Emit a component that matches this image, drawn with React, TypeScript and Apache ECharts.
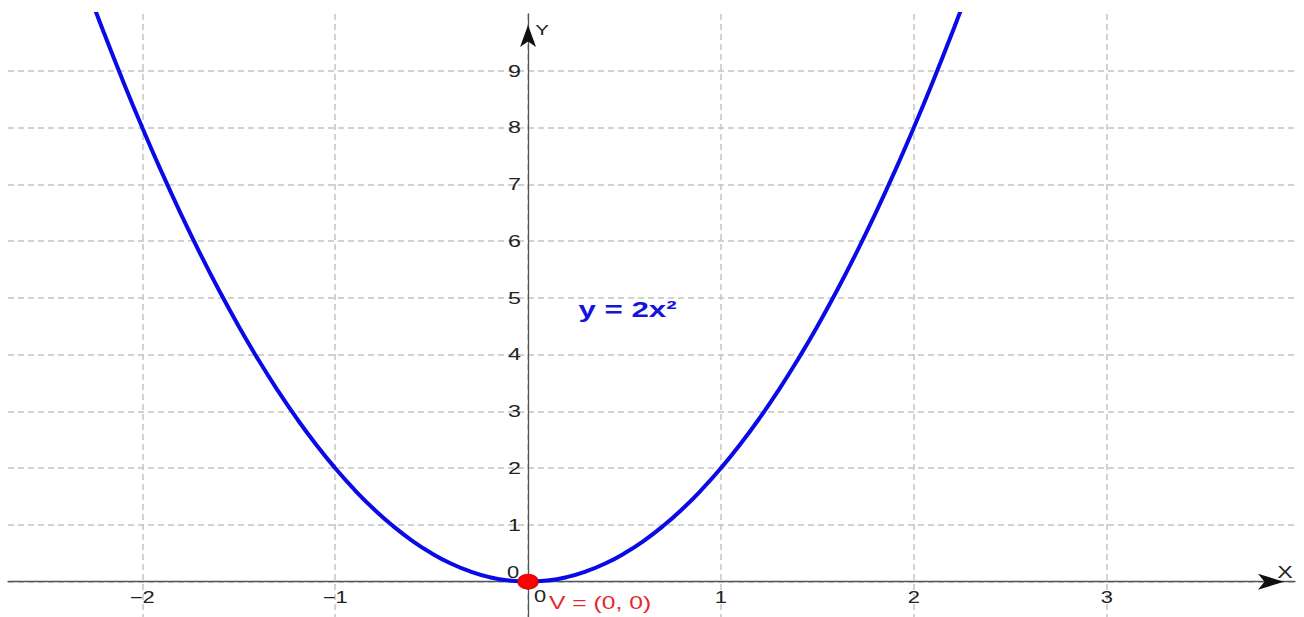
import React, { useEffect, useRef } from 'react';
import * as echarts from 'echarts';

// Parabola samples (y = 2x²)
const curveX = [
  -2.3, -2.2, -2.1, -2.0, -1.9, -1.8, -1.7, -1.6, -1.5, -1.4, -1.3, -1.2, -1.1, -1.0,
  -0.9, -0.8, -0.7, -0.6, -0.5, -0.4, -0.3, -0.2, -0.1, 0, 0.1, 0.2, 0.3, 0.4, 0.5,
  0.6, 0.7, 0.8, 0.9, 1.0, 1.1, 1.2, 1.3, 1.4, 1.5, 1.6, 1.7, 1.8, 1.9, 2.0, 2.1, 2.2, 2.3,
];
const curveY = [
  10.58, 9.68, 8.82, 8, 7.22, 6.48, 5.78, 5.12, 4.5, 3.92, 3.38, 2.88, 2.42, 2,
  1.62, 1.28, 0.98, 0.72, 0.5, 0.32, 0.18, 0.08, 0.02, 0, 0.02, 0.08, 0.18, 0.32, 0.5,
  0.72, 0.98, 1.28, 1.62, 2, 2.42, 2.88, 3.38, 3.92, 4.5, 5.12, 5.78, 6.48, 7.22, 8, 8.82, 9.68, 10.58,
];

const xTickValues = [-2, -1, 1, 2, 3];
const xTickLabels = ['−2', '−1', '1', '2', '3'];
const yTickValues = [1, 2, 3, 4, 5, 6, 7, 8, 9];
const yTickLabels = ['1', '2', '3', '4', '5', '6', '7', '8', '9'];

const xRange = [-2.696, 3.976];
const yRange = [-0.622, 10];

const vertex = [0, 0];
const vertexLabel = 'V = (0, 0)';
const originLabel = '0';
const equationLabel = 'y = 2x²';
const equationPos = [0.516, 4.8];
const xName = 'X';
const yName = 'Y';

const FONT = '"Liberation Sans", Arial, sans-serif';
const STRETCH = 1.37; // the source picture is widened horizontally

export default function App() {
  const ref = useRef<HTMLDivElement>(null);

  useEffect(() => {
    if (!ref.current) return;
    const chart = echarts.init(ref.current, null, { renderer: 'svg' });

    const gridLine = {
      show: true,
      showMinLine: false,
      showMaxLine: false,
      lineStyle: { color: '#c4c4c4', width: 1.5, type: [6, 4] as any },
    };

    const option: any = {
      animation: false,
      backgroundColor: '#ffffff',
      grid: { left: 8, right: 9, top: 14, bottom: 0, containLabel: false, outerBoundsMode: 'none' },
      xAxis: {
        type: 'value',
        min: xRange[0],
        max: xRange[1],
        minInterval: 1,
        maxInterval: 1,
        splitNumber: 7,
        axisLine: {
          show: true,
          onZero: true,
          lineStyle: { color: '#555', width: 1.3 },
        },
        axisTick: { show: false },
        axisLabel: { show: false },
        splitLine: gridLine,
      },
      yAxis: {
        type: 'value',
        min: yRange[0],
        max: yRange[1],
        minInterval: 1,
        maxInterval: 1,
        splitNumber: 11,
        axisLine: {
          show: true,
          onZero: true,
          lineStyle: { color: '#555', width: 1.3 },
        },
        axisTick: { show: false },
        axisLabel: { show: false },
        splitLine: gridLine,
      },
      series: [
        {
          type: 'line',
          data: curveX.map((x, i) => [x, curveY[i]]),
          showSymbol: false,
          smooth: true,
          clip: true,
          lineStyle: { color: '#0a0ae6', width: 4 },
          z: 3,
        },
        {
          // arrow head at the end of the x axis
          type: 'scatter',
          data: [[xRange[1], 0]],
          symbol: 'arrow',
          symbolSize: [12, 26],
          symbolRotate: -90,
          symbolOffset: [-11, 0],
          clip: false,
          silent: true,
          itemStyle: { color: '#111', opacity: 1 },
          z: 4,
        },
        {
          // arrow head at the top of the y axis
          type: 'scatter',
          data: [[0, yRange[1]]],
          symbol: 'arrow',
          symbolSize: [12, 22],
          symbolOffset: [0, 11],
          clip: false,
          silent: true,
          itemStyle: { color: '#111', opacity: 1 },
          z: 4,
        },
        {
          type: 'scatter',
          data: [vertex],
          symbol: 'circle',
          symbolSize: [20, 15],
          itemStyle: { color: '#ff0000', borderColor: '#c80000', borderWidth: 1, opacity: 1 },
          z: 6,
        },
      ],
    };

    chart.setOption(option);

    // Texts: positioned through the chart's own scales, widened like the source picture
    const toPx = (p: number[]) => chart.convertToPixel({ xAxisIndex: 0, yAxisIndex: 0 }, p) as number[];
    const txt = (
      p: number[],
      dx: number,
      dy: number,
      text: string,
      size: number,
      color: string,
      align: string,
      weight = 'normal',
      stretch = STRETCH,
    ) => {
      const [px, py] = toPx(p);
      return {
        type: 'text',
        x: px + dx,
        y: py + dy,
        scaleX: stretch,
        z: 100,
        silent: true,
        style: {
          text,
          fill: color,
          font: `${weight} ${size}px ${FONT}`,
          fontSize: size,
          fontWeight: weight,
          fontFamily: FONT,
          textAlign: align,
          align,
          textVerticalAlign: 'middle',
          verticalAlign: 'middle',
        },
      };
    };

    const elements: any[] = [];
    xTickValues.forEach((v, i) => elements.push(txt([v, 0], 0, 15.5, xTickLabels[i], 16, '#222', 'center')));
    yTickValues.forEach((v, i) => elements.push(txt([0, v], -7, 0, yTickLabels[i], 17, '#222', 'right')));
    elements.push(txt(vertex, -15, -9, originLabel, 16, '#222', 'center'));
    elements.push(txt(vertex, 12, 14.5, originLabel, 16, '#222', 'center'));
    elements.push(txt(vertex, 21, 21, vertexLabel, 18, '#e8262b', 'left'));
    elements.push(txt(equationPos, 0, 0, equationLabel, 22, '#1414dc', 'center', 'bold', 1.42));
    elements.push(txt([xRange[1], 0], -10, -10, xName, 17, '#222', 'center'));
    elements.push(txt([0, yRange[1]], 14, 16, yName, 15, '#222', 'center'));

    chart.setOption({ graphic: { elements } });

    return () => chart.dispose();
  }, []);

  return (
    <div
      ref={ref}
      style={{ position: 'fixed', left: 0, top: 0, width: 1304, height: 617, background: '#fff' }}
    />
  );
}
